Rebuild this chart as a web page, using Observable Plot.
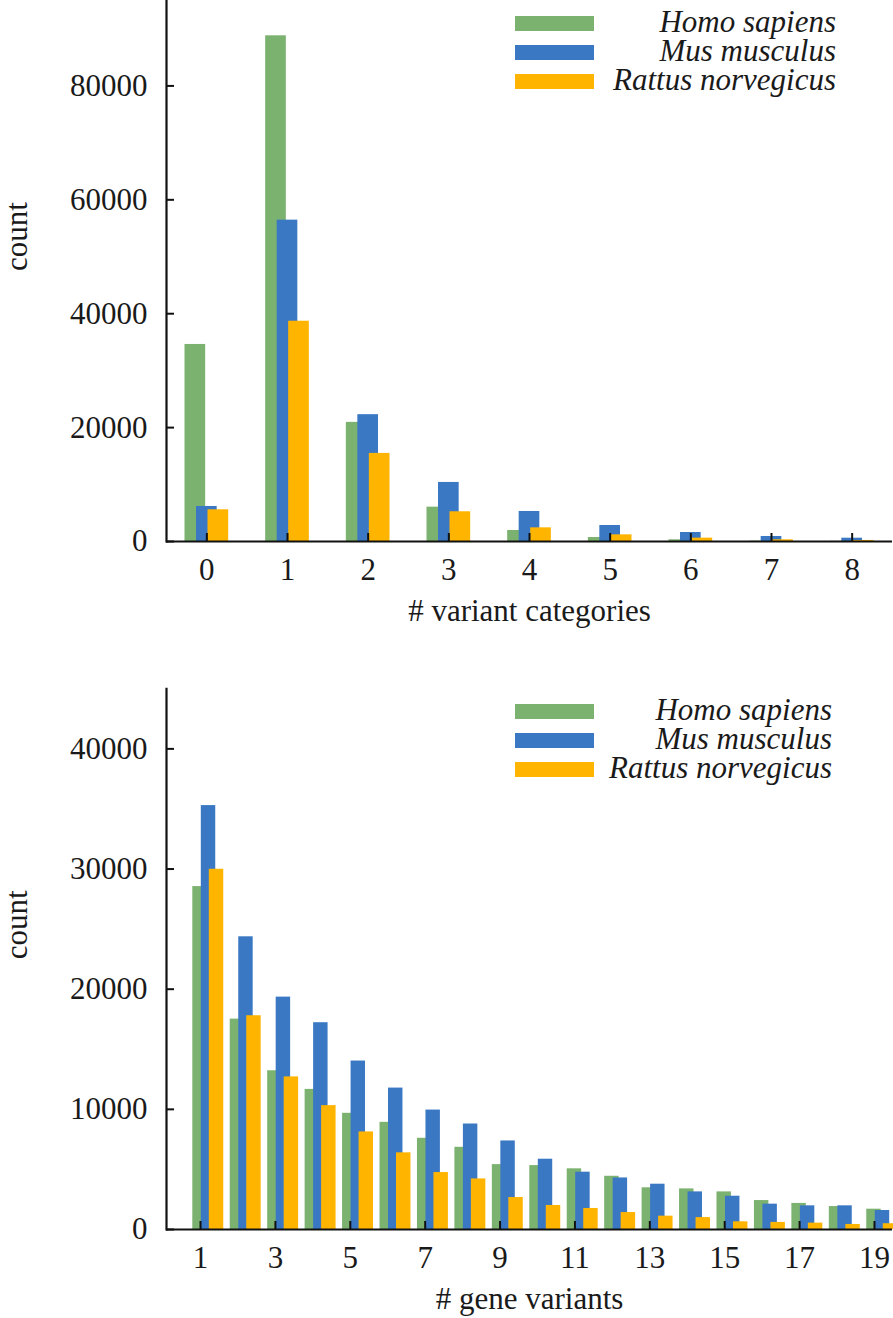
<!DOCTYPE html>
<html><head><meta charset="utf-8">
<script src="https://cdn.jsdelivr.net/npm/d3@7"></script>
<script src="https://cdn.jsdelivr.net/npm/@observablehq/plot@0.6"></script>
<style>
body{margin:0;background:#fff;}
#wrap{position:relative;width:893px;height:1318px;font-family:"Liberation Serif",serif;color:#1a1a1a;}
#wrap svg{display:block;}
.legend{position:absolute;left:515px;width:330px;}
.row{position:absolute;left:0;height:29px;display:flex;align-items:center;}
.sw{width:79px;height:15px;flex:none;}
.lab{font-style:italic;font-size:31px;line-height:29px;position:relative;top:-2px;text-align:right;white-space:nowrap;}
</style></head><body><div id="wrap"></div>
<script>
const species = ["Homo sapiens", "Mus musculus", "Rattus norvegicus"];
const colors = ["#7cb270", "#3a78c4", "#ffb400"];

// top chart: # variant categories
const variantCategories = [0, 1, 2, 3, 4, 5, 6, 7, 8];
const homoCategories = [34600, 88800, 20920, 6030, 1930, 700, 300, 60, 30];
const musCategories  = [6150, 56430, 22270, 10370, 5270, 2810, 1580, 880, 580];
const ratCategories  = [5570, 38680, 15470, 5220, 2400, 1170, 590, 300, 180];
const topYTicks = [0, 20000, 40000, 60000, 80000];
const topXTicks = [0, 1, 2, 3, 4, 5, 6, 7, 8];

// bottom chart: # gene variants
const geneVariants = [1, 2, 3, 4, 5, 6, 7, 8, 9, 10, 11, 12, 13, 14, 15, 16, 17, 18, 19];
const homoGenes = [28540, 17510, 13210, 11660, 9670, 8920, 7590, 6840, 5400, 5320, 5050, 4430, 3470, 3380, 3130, 2410, 2170, 1910, 1690];
const musGenes  = [35280, 24360, 19340, 17210, 14020, 11770, 9940, 8780, 7370, 5850, 4770, 4290, 3770, 3130, 2770, 2110, 1970, 1970, 1580];
const ratGenes  = [29980, 17790, 12700, 10310, 8120, 6380, 4740, 4210, 2660, 2000, 1750, 1410, 1110, 990, 640, 590, 530, 420, 480];
const bottomYTicks = [0, 10000, 20000, 30000, 40000];
const bottomXTicks = [1, 3, 5, 7, 9, 11, 13, 15, 17, 19];

function chart(o) {
  const marks = [];
  o.series.forEach((vals, k) => {
    const rows = o.cats.map((c, i) => ({cat: c, value: vals[i], species: species[k]}));
    marks.push(Plot.barY(rows, {x: "cat", y: "value", fill: colors[k], insetLeft: o.inset, insetRight: o.inset, dx: o.dxs[k]}));
  });
  marks.push(
    Plot.ruleY([0], {stroke: "#111", strokeWidth: 2.2}),
    Plot.frame({anchor: "left", stroke: "#111", strokeWidth: 2.2}),
    Plot.axisY({ticks: o.yTicks, tickSize: 0, tickPadding: 19, tickFormat: d => String(d), label: null}),
    Plot.axisY({ticks: o.yTicks, tickSize: 8, dx: 8, tickFormat: () => "", label: null, strokeWidth: 2, stroke: "#111"}),
    Plot.axisX({ticks: o.xTicks, tickSize: 0, tickPadding: 16, label: null}),
    Plot.axisX({ticks: o.xTicks, tickSize: 8, dy: -8, tickFormat: () => "", label: null, strokeWidth: 2, stroke: "#111"}),
    Plot.text(["count"], {text: d => d, frameAnchor: "left", dx: -149, rotate: -90, fontSize: 31, fill: "#1a1a1a"}),
    Plot.text([o.xLabel], {text: d => d, frameAnchor: "bottom", dy: 79, fontSize: 31, fill: "#1a1a1a"})
  );
  return Plot.plot({
    width: 893,
    height: o.height,
    marginLeft: 166,
    marginRight: 1,
    marginTop: o.marginTop,
    marginBottom: o.marginBottom,
    style: {fontFamily: "Liberation Serif, serif", fontSize: "31px", color: "#1a1a1a", background: "#fff", overflow: "hidden"},
    x: Object.assign({type: "band", domain: o.cats, padding: 0, round: false}, o.xRange ? {range: o.xRange} : {}),
    y: {domain: o.yDomain},
    marks
  });
}

function legend(top, textRight) {
  const div = document.createElement("div");
  div.className = "legend";
  div.style.top = top + "px";
  species.forEach((s, k) => {
    const row = document.createElement("div");
    row.className = "row";
    row.style.top = (k * 29.2) + "px";
    const sw = document.createElement("div");
    sw.className = "sw";
    sw.style.background = colors[k];
    const lab = document.createElement("div");
    lab.className = "lab";
    lab.style.width = (textRight - 594) + "px";
    lab.textContent = s;
    row.appendChild(sw);
    row.appendChild(lab);
    div.appendChild(row);
  });
  return div;
}

const wrap = document.getElementById("wrap");
wrap.appendChild(chart({
  cats: variantCategories,
  series: [homoCategories, musCategories, ratCategories],
  yDomain: [0, 95000], yTicks: topYTicks, xTicks: topXTicks,
  xRange: [166, 892],
  inset: 30, dxs: [-11.5, 0, 11.5],
  height: 650, marginTop: 0, marginBottom: 109,
  xLabel: "# variant categories"
}));
wrap.appendChild(chart({
  cats: geneVariants,
  series: [homoGenes, musGenes, ratGenes],
  yDomain: [0, 45000], yTicks: bottomYTicks, xTicks: bottomXTicks,
  xRange: [181.3, 892.7],
  inset: 11.5, dxs: [-0.5, 8, 16],
  height: 668, marginTop: 38.3, marginBottom: 89,
  xLabel: "# gene variants"
}));
wrap.appendChild(legend(23.5 - 14.5, 836));
wrap.appendChild(legend(711.3 - 14.5, 832));
</script>
</body></html>
